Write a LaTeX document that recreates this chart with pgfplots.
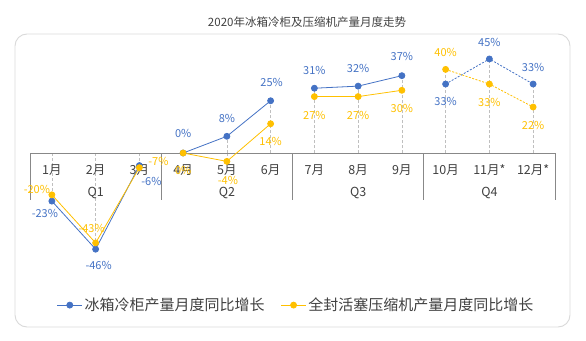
\documentclass[border=0pt]{standalone}
\usepackage{pgfplots}
\pgfplotsset{compat=1.18}
\usepackage{pgfplotstable}
\usepackage{fontspec}
\setmainfont{Noto Sans CJK SC}
\definecolor{bluec}{HTML}{4472C4}
\definecolor{orgc}{HTML}{FFC000}
\definecolor{axc}{HTML}{888888}
\definecolor{txc}{HTML}{404040}
\definecolor{dropc}{HTML}{BFBFBF}
\definecolor{boxc}{HTML}{D9D9D9}

\pgfplotstableread{
x y lab dx dy
1 -23 -23 -7 -12
2 -46 -46 3 -16
3 -6 -6 12 -16
4 0 0 0 20
5 8 8 0 18
6 25 25 1 18
7 31 31 0 18
8 32 32 0 18
9 37 37 0 19
10 33 33 0 -17
11 45 45 0 16
12 33 33 0 17
}\blueT

\pgfplotstableread{
x y lab dx dy
1 -20 -20 -15 5
2 -43 -43 -4 14
3 -7 -7 19 6
4 0 0 0 -17
5 -4 -4 1 -19
6 14 14 0 -18
7 27 27 0 -19
8 27 27 0 -19
9 30 30 0 -18
10 40 40 0 17
11 33 33 0 -18
12 22 22 0 -18
}\orgT

\pgfplotsset{
  lbl/.style={
    nodes near coords={\pgfplotspointmeta\%},
    point meta=explicit symbolic,
    visualization depends on={\thisrow{dx}\as\dx},
    visualization depends on={\thisrow{dy}\as\dy},
    every node near coord/.append style={xshift=\dx pt, yshift=\dy pt, anchor=center,
      font=\fontsize{11}{13}\selectfont, inner sep=0pt, text=#1}
  },
  bser/.style={color=bluec, line width=0.8pt, mark=*, mark size=3pt, mark options={solid, fill=bluec, draw=bluec}, lbl=bluec},
  oser/.style={color=orgc, line width=0.8pt, mark=*, mark size=3pt, mark options={solid, fill=orgc, draw=orgc}, lbl=orgc},
}

\begin{document}
\begin{tikzpicture}[x=1pt,y=1pt]
\useasboundingbox (0,0) rectangle (586,340);
\draw[draw=boxc, line width=0.9pt, rounded corners=12pt] (15,13) rectangle (570,306);
\node[text=txc, font=\fontsize{11.5}{13}\selectfont] at (307,318) {2020年冰箱冷柜及压缩机产量月度走势};
\begin{axis}[
  at={(30pt,72pt)}, anchor=south west,
  scale only axis, width=525pt, height=219.5pt,
  xmin=0.5, xmax=12.5, ymin=-55, ymax=50,
  axis lines=none, clip=false,
  legend columns=2,
  legend style={at={(axis description cs:0.507,-0.169)}, anchor=center, draw=none, fill=none,
    font=\fontsize{15}{17}\selectfont, text=txc,
    /tikz/every even column/.append style={column sep=14pt}},
  legend image code/.code={\draw[mark repeat=2, mark phase=2] plot coordinates {(0pt,0pt) (12.5pt,0pt) (25pt,0pt)};},
]
% drop lines
\addplot[ycomb, no markers, draw=dropc, line width=0.7pt, dash pattern=on 3pt off 2pt, forget plot] table[x=x,y=y] {\blueT};
\addplot[ycomb, no markers, draw=dropc, line width=0.7pt, dash pattern=on 3pt off 2pt, forget plot] table[x=x,y=y] {\orgT};
% axis line, separators, labels
\draw[axc, line width=0.9pt] (axis cs:0.5,0) -- (axis cs:12.5,0);
\draw[axc, line width=0.9pt] (axis cs:0.5,0) -- (axis cs:0.5,-22.5);
\draw[axc, line width=0.9pt] (axis cs:3.5,0) -- (axis cs:3.5,-22.5);
\draw[axc, line width=0.9pt] (axis cs:6.5,0) -- (axis cs:6.5,-22.5);
\draw[axc, line width=0.9pt] (axis cs:9.5,0) -- (axis cs:9.5,-22.5);
\draw[axc, line width=0.9pt] (axis cs:12.5,0) -- (axis cs:12.5,-22.5);
\begin{scope}[every node/.style={text=txc, font=\fontsize{12.5}{14}\selectfont, yshift=-17pt}]
\node at (axis cs:1,0) {1月};
\node at (axis cs:2,0) {2月};
\node at (axis cs:3,0) {3月};
\node at (axis cs:4,0) {4月};
\node at (axis cs:5,0) {5月};
\node at (axis cs:6,0) {6月};
\node at (axis cs:7,0) {7月};
\node at (axis cs:8,0) {8月};
\node at (axis cs:9,0) {9月};
\node at (axis cs:10,0) {10月};
\node at (axis cs:11,0) {11月*};
\node at (axis cs:12,0) {12月*};
\end{scope}
\begin{scope}[every node/.style={text=txc, font=\fontsize{12.5}{14}\selectfont, yshift=-40pt}]
\node at (axis cs:2,0) {Q1};
\node at (axis cs:5,0) {Q2};
\node at (axis cs:8,0) {Q3};
\node at (axis cs:11,0) {Q4};
\end{scope}
% series
\addplot[bser, restrict x to domain=1:3] table[x=x,y=y,meta=lab] {\blueT};
\addlegendentry{冰箱冷柜产量月度同比增长}
\addplot[oser, restrict x to domain=1:3] table[x=x,y=y,meta=lab] {\orgT};
\addlegendentry{全封活塞压缩机产量月度同比增长}
\addplot[bser, restrict x to domain=4:6, forget plot] table[x=x,y=y,meta=lab] {\blueT};
\addplot[bser, restrict x to domain=7:9, forget plot] table[x=x,y=y,meta=lab] {\blueT};
\addplot[bser, restrict x to domain=10:12, dash pattern=on 2pt off 1.5pt, forget plot] table[x=x,y=y,meta=lab] {\blueT};
\addplot[oser, restrict x to domain=4:6, forget plot] table[x=x,y=y,meta=lab] {\orgT};
\addplot[oser, restrict x to domain=7:9, forget plot] table[x=x,y=y,meta=lab] {\orgT};
\addplot[oser, restrict x to domain=10:12, dash pattern=on 2pt off 1.5pt, forget plot] table[x=x,y=y,meta=lab] {\orgT};
\end{axis}
\end{tikzpicture}
\end{document}
